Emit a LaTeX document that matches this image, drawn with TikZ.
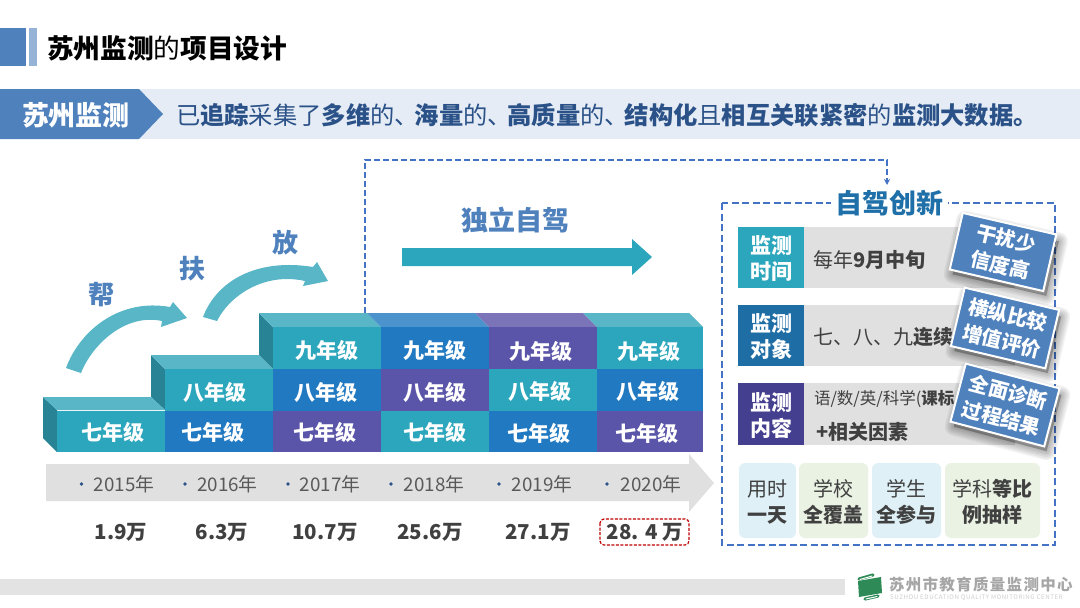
\documentclass[tikz,border=0pt]{standalone}
\usepackage{fontspec}
\setmainfont{Noto Sans CJK SC}
\usetikzlibrary{arrows.meta}
\definecolor{barblue}{HTML}{4F81BD}
\definecolor{barlight}{HTML}{95B3D7}
\definecolor{bandblue}{HTML}{E5ECF5}
\definecolor{inkblue}{HTML}{2B5288}
\definecolor{dashblue}{HTML}{4472C4}
\definecolor{teal}{HTML}{2CA6BC}
\definecolor{tealtop}{HTML}{58B6C7}
\definecolor{tealside}{HTML}{288494}
\definecolor{midblue}{HTML}{2179C1}
\definecolor{bluetop}{HTML}{4A93CC}
\definecolor{purple}{HTML}{5A55A8}
\definecolor{purpletop}{HTML}{7C74B8}
\definecolor{grayband}{HTML}{E0E0E0}
\definecolor{inkgray}{HTML}{404040}
\definecolor{yeargray}{HTML}{595959}
\definecolor{titleblue}{HTML}{1F6FA8}
\definecolor{labteal}{HTML}{2CA6BC}
\definecolor{labblue}{HTML}{1F6DA5}
\definecolor{labpurple}{HTML}{443F8F}
\definecolor{tileblue}{HTML}{DFF0F6}
\definecolor{tilegreen}{HTML}{EAF2E3}
\definecolor{logogreen}{HTML}{2E8B57}
\newcommand{\fs}[2]{\fontsize{#1}{#2}\selectfont}
\tikzset{
  txt/.style={inner sep=0pt,outer sep=0pt,align=center},
  grade/.style={txt,text=white,font=\fs{21}{25}\bfseries},
  helper/.style={txt,text=barblue,font=\fs{26}{30}\bfseries},
  year/.style={txt,text=yeargray,font=\fs{18.8}{22}},
  count/.style={txt,text=inkgray,font=\fs{20.5}{24}\bfseries},
  lab/.style={txt,text=white,font=\fs{21}{26}\bfseries},
  rowtext/.style={txt,anchor=west,text=inkgray,font=\fs{20}{24}},
  tile/.style={rounded corners=6pt},
  tiletext/.style={txt,text=inkgray,font=\fs{20}{26}},
  card/.style={txt,fill=barblue,draw=white,line width=2pt,text=white,font=\fs{20}{27}\bfseries,minimum width=96pt,minimum height=58pt},
  curvedarrow/.style={fill=tealtop},
  dashline/.style={draw=dashblue,line width=1.6pt,dash pattern=on 6pt off 3pt},
}
\begin{document}
\begin{tikzpicture}[x=1pt,y=-1pt]
\useasboundingbox (0,0) rectangle (1080,608);
% header
\fill[barblue] (0,28) rectangle (26,66);
\fill[barlight] (29,28) rectangle (37,66);
\node[txt,anchor=west,font=\fs{26.7}{30}] (title) at (47,48) {\textbf{苏州监测}的\textbf{项目设计}};
\fill[bandblue] (0,89) rectangle (1080,139);
\fill[barblue] (0,89) -- (139,89) -- (163,114) -- (139,139) -- (0,139) -- cycle;
\node[txt,text=white,font=\fs{27}{30}\bfseries] (tag) at (76,115) {苏州监测};
\node[txt,anchor=west,text=inkblue,font=\fs{24.3}{28}] (claim) at (176,115) {已\textbf{追踪}采集了\textbf{多维}的、\kern-4.3pt\textbf{海量}的、\kern-4.3pt\textbf{高质量}的、\kern-4.3pt\textbf{结构化}且\textbf{相互关联紧密}的\textbf{监测大数据。}};
% stairs sides and tops
\fill[tealside] (43,397) -- (57,410) -- (57,452) -- (43,438) -- cycle;
\fill[tealside] (151,355) -- (165,369) -- (165,410) -- (151,397) -- cycle;
\fill[tealside] (259,313) -- (273,327) -- (273,369) -- (259,355) -- cycle;
\fill[tealtop] (43,397) -- (151,397) -- (165,410) -- (57,410) -- cycle;
\fill[tealtop] (151,355) -- (259,355) -- (273,369) -- (165,369) -- cycle;
\fill[tealtop] (259,313) -- (367,313) -- (381,327) -- (273,327) -- cycle;
\fill[bluetop] (367,313) -- (475,313) -- (489,327) -- (381,327) -- cycle;
\fill[purpletop] (475,313) -- (583,313) -- (597,327) -- (489,327) -- cycle;
\fill[tealtop] (583,313) -- (689,313) -- (703,327) -- (597,327) -- cycle;
% stairs cells
\foreach \xa/\xb/\ya/\yb/\c in {
  57/165/410.5/452/teal,
  165/273/369/410.5/teal, 165/273/410.5/452/midblue,
  273/381/327/369/teal, 273/381/369/410.5/midblue, 273/381/410.5/452/purple,
  381/489/327/369/midblue, 381/489/369/410.5/purple, 381/489/410.5/452/teal,
  489/597/327/369/purple, 489/597/369/410.5/teal, 489/597/410.5/452/midblue,
  597/703/327/369/teal, 597/703/369/410.5/midblue, 597/703/410.5/452/purple}
  {\fill[\c] (\xa,\ya) rectangle (\xb,\yb);}
\foreach \x/\y/\t/\n in {
  113/432/七年级/a,
  215/392/八年级/b, 213/432/七年级/c,
  327/350/九年级/d, 326/392/八年级/e, 325/432/七年级/f,
  435/350/九年级/g, 435/392/八年级/h, 435/432/七年级/i,
  541/351/九年级/j, 540/391/八年级/k, 539/433/七年级/l,
  649/351/九年级/m, 648/391/八年级/n, 647/433/七年级/o}
  {\node[grade] (g\n) at (\x,\y) {\t};}
% curved arrows
\fill[curvedarrow] (66,368) .. controls (80,330) and (120,298) .. (170,307) -- (173,302) -- (187,318) -- (161,327) -- (162,321) .. controls (125,313) and (92,345) .. (81,373) -- cycle;
\fill[curvedarrow] (203,317) .. controls (217,280) and (258,258) .. (313,267) -- (317,262) -- (328,281) -- (303,286) -- (305,281) .. controls (265,272) and (230,295) .. (217,321) -- cycle;
\node[helper] (bang) at (101,295) {帮};
\node[helper] (fu) at (192,269) {扶};
\node[helper] (fang) at (285,243) {放};
% independent drive
\node[txt,text=barblue,font=\fs{27}{30}\bfseries] (duli) at (515,220) {独立自驾};
\fill[teal] (402,248) -- (632,248) -- (632,239) -- (652,257) -- (632,275) -- (632,266) -- (402,266) -- cycle;
% timeline
\fill[grayband] (46,464) -- (689,464) -- (689,454) -- (714,483) -- (689,512) -- (689,501) -- (46,501) -- cycle;
\foreach \bx/\tx/\t/\n in {81.5/124/2015/a,185/227.5/2016/b,288/330/2017/c,391/434/2018/d,499/542/2019/e,607/651/2020/f}{
  \fill[inkblue] (\bx,484) circle (1.9);
  \node[year] (y\n) at (\tx,484) {\t 年};
}
\foreach \x/\t/\n in {121/1.9万/a,222/6.3万/b,325/10.7万/c,430/25.6万/d,538/27.1万/e,645/28. 4 万/f}
  {\node[count] (n\n) at (\x,532) {\t};}
\draw[draw=red!75!black,line width=1.2pt,dash pattern=on 3pt off 1.5pt,rounded corners=4pt] (600,519) rectangle (689,545);
% right panel
\draw[dashline,line width=2pt,dash pattern=on 7pt off 3.5pt] (722,203) rectangle (1055,545);
\node[txt,fill=white,text=titleblue,font=\fs{27}{30}\bfseries,minimum width=117pt,minimum height=30pt] (zj) at (889,203) {自驾创新};
\coordinate (start) at (365,313);
\coordinate (c1) at (365,160);
\coordinate (c2) at (887,160);
\coordinate (end) at (887,185);
\draw[dashline,-{Stealth[length=6pt,width=6pt]}] (start) -- (c1) -- (c2) -- (end);
% rows
\fill[grayband] (804,227) rectangle (1015,288);
\fill[grayband] (804,305) rectangle (1015,366);
\fill[grayband] (804,383) rectangle (1015,445);
\fill[labteal] (738,227) rectangle (804,288);
\fill[labblue] (738,305) rectangle (804,366);
\fill[labpurple] (738,383) rectangle (804,445);
\node[lab] (r1) at (771,258.5) {监测\\时间};
\node[lab] (r2) at (771,336.5) {监测\\对象};
\node[lab] (r3) at (771,416) {监测\\内容};
\node[rowtext] (t1) at (813,260) {每年\textbf{9月中旬}};
\node[rowtext] (t2) at (813,337) {七、八、九\textbf{连续}};
\node[rowtext,font=\fs{16.5}{20}] (t3) at (814,399) {语/数/英/科学(\textbf{课标}};
\node[rowtext] (t4) at (816,432) {\textbf{+相关因素}};
% tiles
\fill[tile,tileblue] (739,463) rectangle (796,538);
\fill[tile,tilegreen] (799,463) rectangle (868,538);
\fill[tile,tileblue] (872,463) rectangle (941,538);
\fill[tile,tilegreen] (945,463) rectangle (1040,538);
\node[tiletext] (k1) at (767.5,502) {用时\\\textbf{一天}};
\node[tiletext] (k2) at (833.5,502) {学校\\\textbf{全覆盖}};
\node[tiletext] (k3) at (906.5,502) {学生\\\textbf{全参与}};
\node[tiletext] (k4) at (992.5,502) {学科\textbf{等比}\\\textbf{例抽样}};
% card shadows
\foreach \cx/\cy/\a/\hh in {1003/252/-13/29, 1005/328/-13.3/30, 1005/405/-14.8/30}{
  \begin{scope}[shift={(\cx,\cy)},rotate=\a]
    \foreach \w in {18,15,12,9,6,3}
      \draw[black,opacity=.05,line width=\w pt,line join=round,fill=black,fill opacity=.05] (-44,-\hh+6) rectangle (52,\hh+4);
  \end{scope}
}
\node[card,rotate=-13] (c-a) at (1003,252) {干扰少\\信度高};
\node[card,rotate=-13.3,minimum height=60pt,minimum width=97pt] (c-b) at (1005,328) {横纵比较\\增值评价};
\node[card,rotate=-14.8,minimum height=60pt,minimum width=97pt] (c-c) at (1005,405) {全面诊断\\过程结果};
% footer
\fill[grayband!90!white] (0,579) rectangle (845,595);
\fill[logogreen] (858,581) -- (881,577) -- (882,593) -- (859,597) -- cycle;
\draw[logogreen,line width=3.2pt,line cap=round] (859,579) -- (873,575);
\draw[logogreen,line width=3.2pt,line cap=round] (865,599) -- (878,596);
\draw[white,line width=1pt,line cap=round] (860,579.5) -- (872,576);
\draw[white,line width=1pt,line cap=round] (866,599) -- (877,596.5);
\node[txt,anchor=west,text=black!35,font=\fs{15.5}{18}\bfseries\addfontfeature{LetterSpace=8.5}] (logo) at (889,585) {苏州市教育质量监测中心};
\node[txt,anchor=west,text=black!20,font=\fs{6.2}{7}\addfontfeature{LetterSpace=9}] (logo2) at (890,598) {SUZHOU EDUCATION QUALITY MONITORING CENTER};
\end{tikzpicture}
\end{document}
